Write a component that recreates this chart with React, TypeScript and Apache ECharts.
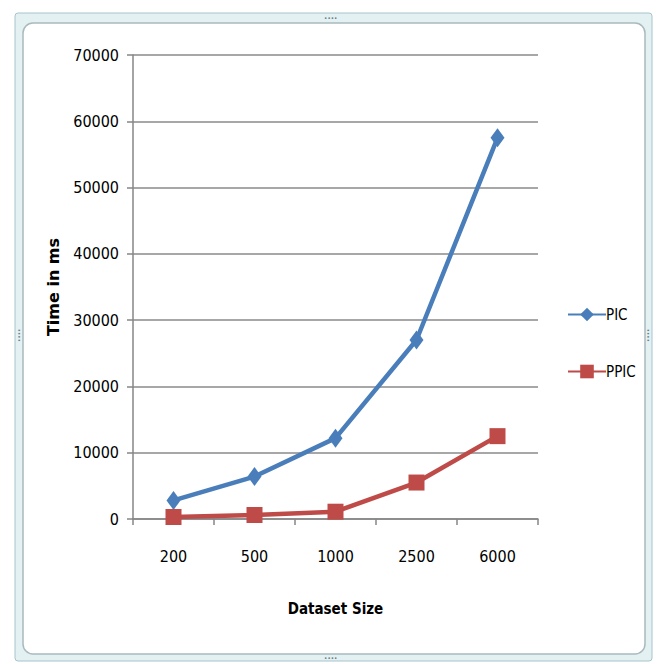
import React, { useEffect, useRef } from "react";
import * as echarts from "echarts";

const categories = ["200", "500", "1000", "2500", "6000"];
const picValues = [2800, 6400, 12200, 27000, 57500];
const ppicValues = [300, 600, 1100, 5500, 12500];
const yMax = 70000;
const yInterval = 10000;

const FONT = "'Liberation Sans Narrow', 'DejaVu Sans Condensed', 'Roboto Condensed', sans-serif";

export default function App() {
  const ref = useRef<HTMLDivElement>(null);
  useEffect(() => {
    if (!ref.current) return;
    const chart = echarts.init(ref.current, undefined, { renderer: "svg" });
    const dots = (x: number, y: number, rot: number) => ({
      type: "text",
      silent: true,
      x,
      y,
      rotation: rot,
      style: { text: "····", fill: "#6b7f86", font: "bold 10px sans-serif", align: "center", verticalAlign: "middle" },
    });
    chart.setOption({
      animation: false,
      backgroundColor: "#ffffff",
      graphic: [
        {
          type: "rect",
          z: -10,
          silent: true,
          shape: { x: 15, y: 13, width: 637, height: 648, r: 3 },
          style: { fill: "#e3f1f3", stroke: "#a8c4ca", lineWidth: 1 },
        },
        {
          type: "rect",
          z: -9,
          silent: true,
          shape: { x: 23, y: 23, width: 622, height: 631, r: 10 },
          style: { fill: "#ffffff", stroke: "#a9b9bd", lineWidth: 1.5 },
        },
        dots(331, 18, 0),
        dots(331, 658, 0),
        dots(648, 335, Math.PI / 2),
        dots(19, 335, Math.PI / 2),
      ],
      grid: { left: 133, right: 125, top: 55, bottom: 145, containLabel: false },
      legend: {
        orient: "vertical",
        left: 562,
        top: 302,
        itemGap: 42,
        itemWidth: 38,
        itemHeight: 17,
        textStyle: { fontFamily: FONT, fontSize: 15, color: "#000", padding: [0, 0, 0, -5] },
        data: ["PIC", "PPIC"],
      },
      xAxis: {
        type: "category",
        data: categories,
        boundaryGap: true,
        name: "Dataset Size",
        nameLocation: "middle",
        nameGap: 82,
        nameTextStyle: { fontFamily: FONT, fontSize: 15, fontWeight: "bold", color: "#000" },
        axisLine: { show: true, lineStyle: { color: "#868686", width: 1.5 } },
        axisTick: { show: true, alignWithLabel: false, length: 6, lineStyle: { color: "#868686", width: 1.5 } },
        axisLabel: { fontFamily: FONT, fontSize: 16, color: "#000", margin: 29 },
        splitLine: { show: false },
      },
      yAxis: {
        type: "value",
        min: 0,
        max: yMax,
        interval: yInterval,
        name: "Time in ms",
        nameLocation: "middle",
        nameGap: 72,
        nameTextStyle: { fontFamily: "'DejaVu Sans', sans-serif", fontSize: 16, fontWeight: "bold", color: "#000" },
        axisLine: { show: true, lineStyle: { color: "#868686", width: 1.5 } },
        axisTick: { show: true, length: 6, lineStyle: { color: "#868686", width: 1.5 } },
        axisLabel: { fontFamily: FONT, fontSize: 16, color: "#000", margin: 14, formatter: (v: number) => String(v) },
        splitLine: { show: true, lineStyle: { color: "#8a8a8a", width: 1.5 } },
      },
      series: [
        {
          name: "PIC",
          type: "line",
          data: picValues,
          symbol: "diamond",
          symbolSize: [14, 19],
          lineStyle: { color: "#4a7ebb", width: 4.5 },
          itemStyle: { color: "#4a7ebb" },
        },
        {
          name: "PPIC",
          type: "line",
          data: ppicValues,
          symbol: "rect",
          symbolSize: 16,
          lineStyle: { color: "#be4b48", width: 4.5 },
          itemStyle: { color: "#be4b48" },
        },
      ],
    });
    return () => chart.dispose();
  }, []);
  return (
    <div
      ref={ref}
      style={{ position: "fixed", left: 0, top: 0, width: 663, height: 664 }}
    />
  );
}
